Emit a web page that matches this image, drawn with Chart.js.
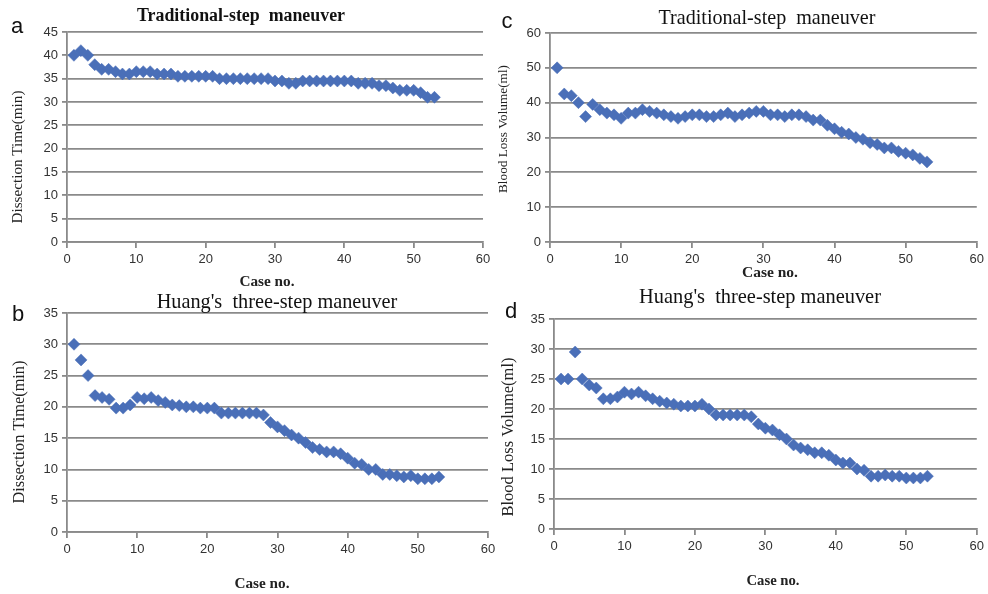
<!DOCTYPE html>
<html>
<head>
<meta charset="utf-8">
<script src="https://cdn.jsdelivr.net/npm/chart.js@4"></script>
<style>
html,body{margin:0;padding:0;background:#fff;}
#wrap{position:relative;width:988px;height:594px;overflow:hidden;}
#wrap canvas{position:absolute;left:0;top:0;}
</style>
</head>
<body>
<div id="wrap">
<canvas id="ca" width="988" height="594"></canvas>
<canvas id="cb" width="988" height="594"></canvas>
<canvas id="cc" width="988" height="594"></canvas>
<canvas id="cd" width="988" height="594"></canvas>
</div>
<script>
// ---- data ----
const cases = [1,2,3,4,5,6,7,8,9,10,11,12,13,14,15,16,17,18,19,20,21,22,23,24,25,26,27,28,29,30,31,32,33,34,35,36,37,38,39,40,41,42,43,44,45,46,47,48,49,50,51,52,53];
const tradTime = [40,41,40,38,37,37,36.5,36,36,36.5,36.5,36.5,36,36,36,35.5,35.5,35.5,35.5,35.5,35.5,35,35,35,35,35,35,35,35,34.5,34.5,34,34,34.5,34.5,34.5,34.5,34.5,34.5,34.5,34.5,34,34,34,33.5,33.5,33,32.5,32.5,32.5,32,31,31];
const huangTime = [30,27.5,25,21.8,21.5,21.2,19.8,19.8,20.3,21.5,21.3,21.5,21,20.7,20.3,20.2,20,20,19.8,19.8,19.8,19,19,19,19,19,19,18.7,17.5,16.8,16.2,15.5,15,14.3,13.5,13.2,12.8,12.8,12.5,11.8,11,10.8,10,10,9.2,9.2,9,8.8,9,8.5,8.5,8.5,8.8];
const tradBlood = [50,42.5,42,40,36,39.5,38,37,36.5,35.5,37,37,38,37.5,37,36.5,36,35.5,36,36.5,36.5,36,36,36.5,37,36,36.5,37,37.5,37.5,36.5,36.5,36,36.5,36.5,36,35,35,33.5,32.5,31.5,31,30,29.5,28.5,28,27,27,26,25.5,25,24,23];
const huangBlood = [25,25,29.5,25,24,23.5,21.7,21.7,22,22.8,22.5,22.8,22.2,21.7,21.3,21,20.8,20.5,20.5,20.5,20.8,20,19,19,19,19,19,18.7,17.5,16.8,16.5,15.7,15,14,13.5,13.2,12.7,12.7,12.3,11.5,11,11,10,9.8,8.8,8.8,9,8.8,8.8,8.5,8.5,8.5,8.8];
const xTicks = [0,10,20,30,40,50,60];
const titleTrad = "Traditional-step  maneuver";
const titleHuang = "Huang's  three-step maneuver";
const yTitleTime = "Dissection Time(min)";
const yTitleBlood = "Blood Loss Volume(ml)";
const xTitle = "Case no.";

const BLUE = '#4a6fb8';
const GRID = '#8a8a8a';

function fitFont(ctx, text, width, weight, family){
  let size = 20;
  ctx.font = weight + ' ' + size + 'px ' + family;
  const w = ctx.measureText(text).width;
  size = size * width / w;
  return weight + ' ' + size.toFixed(2) + 'px ' + family;
}

const textPlugin = {
  id: 'panelText',
  afterDraw(chart){
    const o = chart.options.plugins.panelText;
    const ctx = chart.ctx;
    ctx.save();
    ctx.fillStyle = '#111';
    ctx.textAlign = 'center';
    ctx.textBaseline = 'middle';
    const serif = "'Liberation Serif', 'DejaVu Serif', serif";
    ctx.font = "22px 'Liberation Sans', Arial, sans-serif";
    ctx.fillText(o.letter, o.lx, o.ly);
    ctx.font = fitFont(ctx, o.title, o.tw, o.tweight, serif);
    ctx.fillText(o.title, o.tx, o.ty);
    ctx.fillStyle = '#222';
    ctx.font = fitFont(ctx, xTitle, o.xw, 'bold', serif);
    ctx.fillText(xTitle, o.xx, o.xy);
    ctx.translate(o.yx, o.yy);
    ctx.rotate(-Math.PI/2);
    ctx.font = fitFont(ctx, o.ytitle, o.yl, 'normal', serif);
    ctx.fillText(o.ytitle, 0, 0);
    ctx.restore();
  }
};

function makeChart(id, vals, area, yMax, yStep, txt){
  const yW = 45, xH = 30;
  const data = cases.map((c,i)=>({x:c, y:vals[i]}));
  return new Chart(document.getElementById(id), {
    type: 'scatter',
    data: { datasets: [{ data: data, pointStyle: 'rectRot', pointRadius: 6, pointHoverRadius: 6,
      backgroundColor: BLUE, borderColor: BLUE, borderWidth: 0.5 }] },
    plugins: [textPlugin],
    options: {
      responsive: false, animation: false, events: [],
      layout: { padding: { left: area.l - yW, top: area.t, right: 988 - area.r, bottom: 594 - area.b - xH } },
      plugins: { legend: {display:false}, tooltip: {enabled:false}, panelText: txt },
      scales: {
        x: {
          type: 'linear', min: 0, max: 60,
          afterFit(s){ s.height = xH; },
          afterBuildTicks(s){ s.ticks = xTicks.map(v=>({value:v})); },
          grid: { drawOnChartArea: false, drawTicks: true, tickLength: 6, color: GRID, lineWidth: 1.8 },
          border: { display: true, color: GRID, width: 1.8 },
          ticks: { padding: 4, color: '#333', font: { family: "'Liberation Sans', Arial, sans-serif", size: 13 }, maxRotation: 0 }
        },
        y: {
          min: 0, max: yMax,
          afterFit(s){ s.width = yW; },
          grid: { drawOnChartArea: true, drawTicks: true, tickLength: 5, color: GRID, lineWidth: 1.8 },
          border: { display: true, color: GRID, width: 1.8 },
          ticks: { stepSize: yStep, padding: 4, color: '#333', font: { family: "'Liberation Sans', Arial, sans-serif", size: 13 } }
        }
      }
    }
  });
}

makeChart('ca', tradTime, {l:67, t:32, r:483, b:242}, 45, 5,
  {letter:'a', lx:17, ly:27, title:titleTrad, tx:241, ty:16, tw:208, tweight:'bold',
   ytitle:yTitleTime, yx:18, yy:157, yl:133, xx:267, xy:282, xw:55});
makeChart('cc', tradBlood, {l:550, t:33, r:981, b:242}, 60, 10,
  {letter:'c', lx:507, ly:22, title:titleTrad, tx:767, ty:19, tw:217, tweight:'normal',
   ytitle:yTitleBlood, yx:504, yy:129, yl:128, xx:770, xy:273, xw:56});
makeChart('cb', huangTime, {l:67, t:313, r:488, b:532}, 35, 5,
  {letter:'b', lx:18, ly:315, title:titleHuang, tx:277, ty:303, tw:241, tweight:'normal',
   ytitle:yTitleTime, yx:20, yy:432, yl:143, xx:262, xy:584, xw:55});
makeChart('cd', huangBlood, {l:554, t:319, r:981, b:529}, 35, 5,
  {letter:'d', lx:511, ly:312, title:titleHuang, tx:760, ty:298, tw:242, tweight:'normal',
   ytitle:yTitleBlood, yx:509, yy:437, yl:159, xx:773, xy:581, xw:53});
</script>
</body>
</html>
